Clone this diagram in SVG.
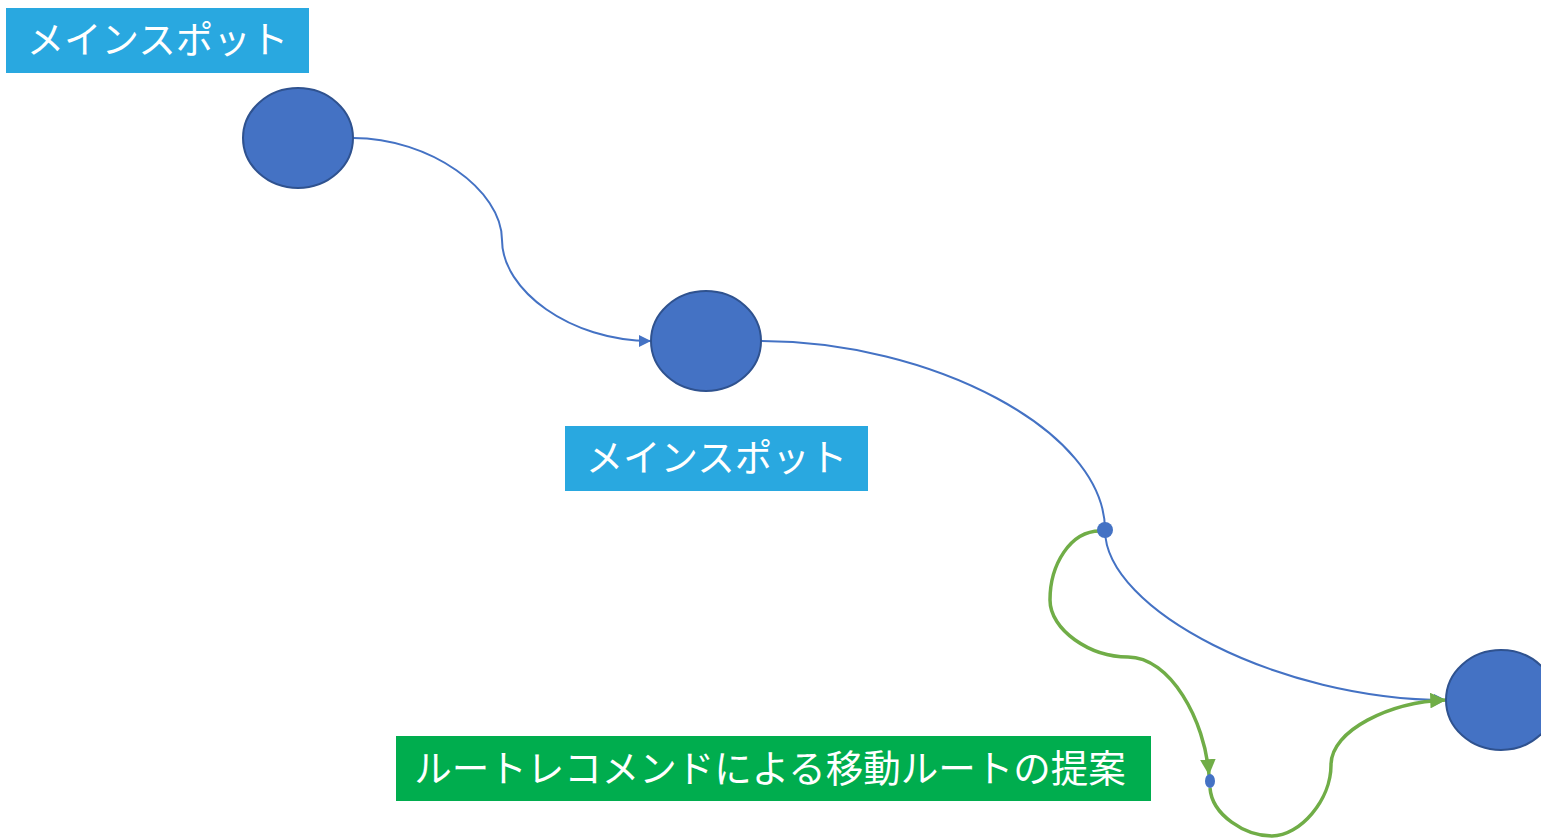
<svg xmlns="http://www.w3.org/2000/svg" width="1541" height="839" viewBox="0 0 1541 839">
<style>
.lbl{font-family:"Noto Sans CJK JP","Noto Sans",sans-serif;font-size:37.5px;fill:#fff;font-weight:400}
.spot{fill:#4472C4;stroke:#2F528F;stroke-width:2}
.blue{fill:none;stroke:#4472C4;stroke-width:2}
.green{fill:none;stroke:#70AD47;stroke-width:3.5}
</style>
<defs>
<marker id="ab" viewBox="0 0 10 10" refX="10" refY="5" markerWidth="14" markerHeight="12" markerUnits="userSpaceOnUse" orient="auto"><path d="M0,0 L10,5 L0,10 z" fill="#4472C4"/></marker>
<marker id="ag" viewBox="0 0 10 10" refX="10" refY="5" markerWidth="4.5" markerHeight="4.5" orient="auto"><path d="M0,0 L10,5 L0,10 z" fill="#70AD47"/></marker>
</defs>
<g id="connectors">
<path class="blue" d="M353,138 C430,138 502,190 502,240 C502,290 570,341 651,341" marker-end="url(#ab)"/>
<path class="blue" d="M761,341 C930,341 1105,430 1105,530 C1105,610 1280,700 1446,700" marker-end="url(#ab)"/>
<path class="green" d="M1100,531 C1070,531 1050,565 1050,600 C1050,630 1090,657 1128,657 C1170,657 1205,720 1209,775" marker-end="url(#ag)"/>
<path class="green" d="M1210,788 C1212,815 1245,836 1272,836 C1300,836 1331,800 1331,765 C1331,730 1390,702 1446,700" marker-end="url(#ag)"/>
</g>
<g id="spot1"><ellipse class="spot" cx="298" cy="138" rx="55" ry="50"/></g>
<g id="spot2"><ellipse class="spot" cx="706" cy="341" rx="55" ry="50"/></g>
<g id="spot3"><ellipse class="spot" cx="1501" cy="700" rx="55" ry="50"/></g>
<g id="waypoint1"><circle cx="1105" cy="530" r="8" fill="#4472C4"/></g>
<g id="waypoint2"><ellipse cx="1210" cy="781" rx="5" ry="7" fill="#4472C4"/></g>
<g id="label1"><rect x="6" y="8" width="303" height="65" fill="#29A8E0"/><text class="lbl" x="157.5" y="53" text-anchor="middle">メインスポット</text></g>
<g id="label2"><rect x="565" y="426" width="303" height="65" fill="#29A8E0"/><text class="lbl" x="716.5" y="471" text-anchor="middle">メインスポット</text></g>
<g id="label3"><rect x="396" y="736" width="755" height="65" fill="#00AD4E"/><text class="lbl" x="770" y="782" text-anchor="middle">ルートレコメンドによる移動ルートの提案</text></g>
</svg>
